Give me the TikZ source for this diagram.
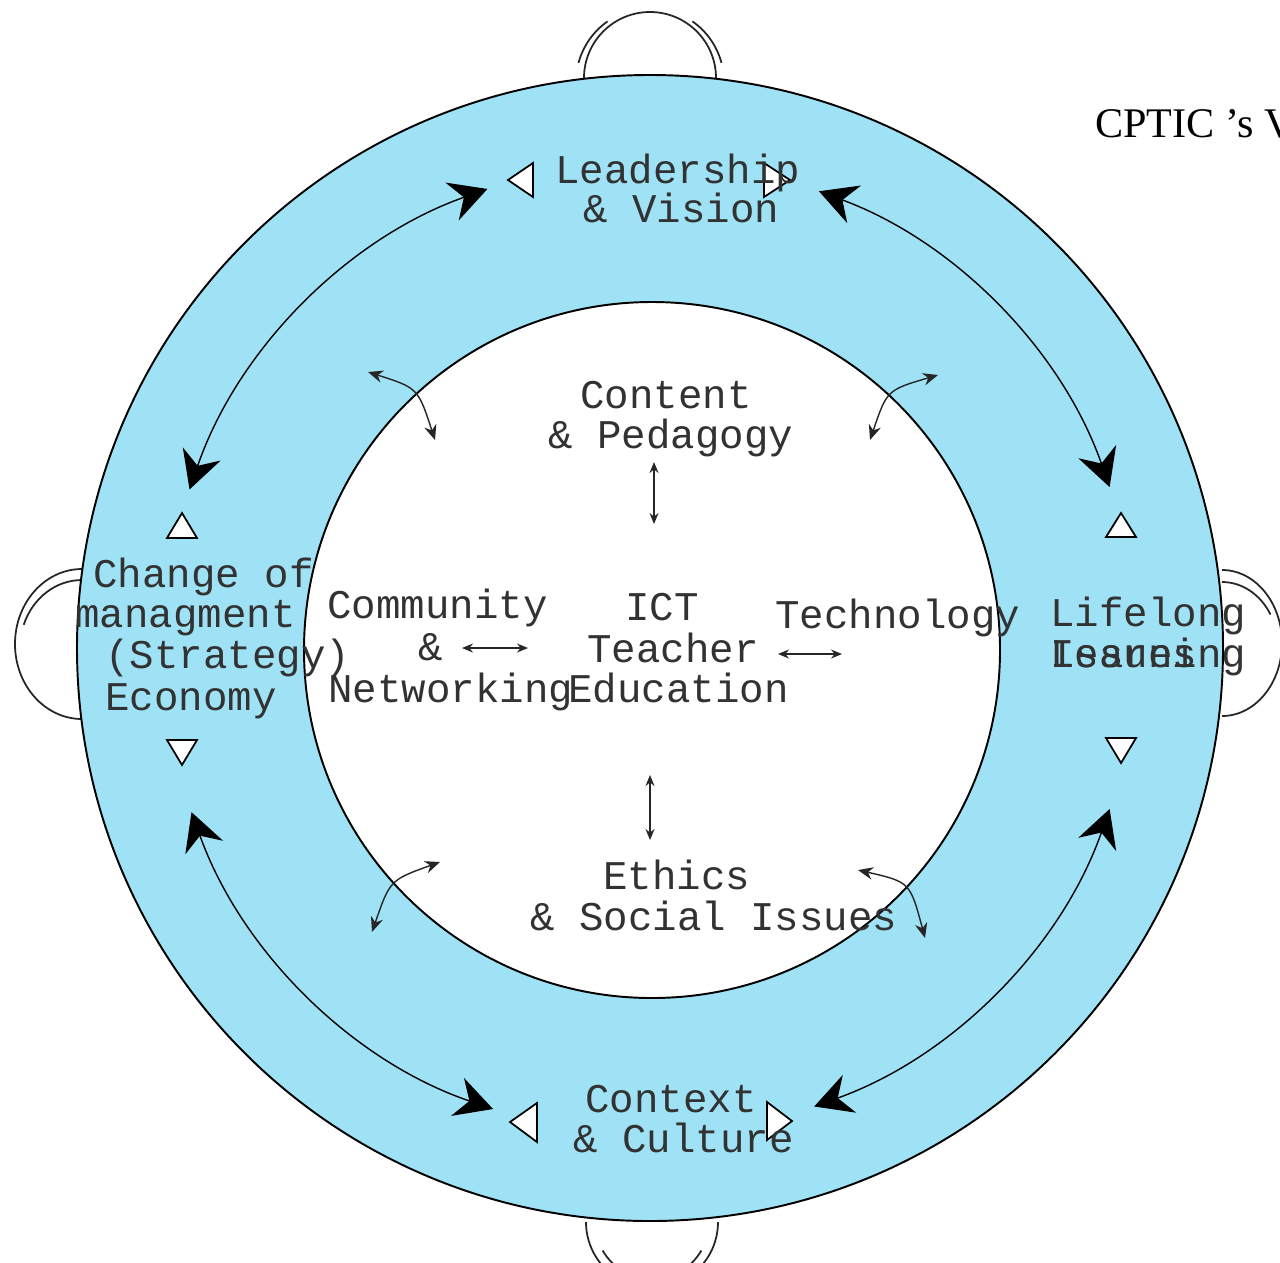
\documentclass[tikz,border=0pt]{standalone}
\usepackage{fontspec}
\setmainfont{Liberation Serif}
\setmonofont{Liberation Mono}
\usetikzlibrary{arrows.meta}
\definecolor{ringblue}{RGB}{160,226,245}
\definecolor{txtgray}{RGB}{50,50,50}
\tikzset{
  lbl/.style={anchor=base west, inner sep=0pt, text=txtgray, font=\ttfamily\fontsize{23.2}{24}\selectfont},
  ttl/.style={anchor=base west, inner sep=0pt, text=black, font=\rmfamily\fontsize{24}{26}\selectfont},
  ring/.style={draw=black, line width=1.1pt},
  bump/.style={draw=black!85, line width=1pt},
  tri/.style={draw=black, line width=1pt, fill=white, line join=miter},
  bigarr/.style={draw=black, line width=0.8pt,
    {Stealth[length=0.75cm,width=0.8cm,inset=0.25cm]}-{Stealth[length=0.75cm,width=0.8cm,inset=0.25cm]}},
  smallarr/.style={draw=black!85, line width=0.8pt,
    {Stealth[length=0.3cm,width=0.25cm]}-{Stealth[length=0.3cm,width=0.25cm]}},
  tinyarr/.style={draw=black!85, line width=0.8pt,
    {Stealth[length=0.22cm,width=0.18cm]}-{Stealth[length=0.22cm,width=0.18cm]}}
}
\begin{document}
\begin{tikzpicture}[x=0.02cm,y=-0.02cm]
\useasboundingbox (0,0) rectangle (1280,1262);
\begin{scope}
\clip (0,0) rectangle (1280,1262);
\fill[white] (0,0) rectangle (1280,1262);
% bumps
\draw[bump] (584,78) arc[start angle=180, end angle=360, radius=66];
\draw[bump] (650,82) ++(195:74) arc[start angle=195, end angle=235, radius=74];
\draw[bump] (650,82) ++(305:74) arc[start angle=305, end angle=345, radius=74];
\draw[bump] (82,569) arc[start angle=270, end angle=90, x radius=67, y radius=75];
\draw[bump] (82,648) ++(270:68) arc[start angle=270, end angle=200, x radius=62, y radius=68];
\draw[bump] (1222,570) arc[start angle=270, end angle=450, x radius=60, y radius=73];
\draw[bump] (1222,647) ++(270:65) arc[start angle=270, end angle=330, x radius=56, y radius=65];
\draw[bump] (718,1222) arc[start angle=0, end angle=180, radius=66];
\draw[bump] (652,1222) ++(120:57) arc[start angle=120, end angle=150, radius=57];
\draw[bump] (652,1222) ++(30:57) arc[start angle=30, end angle=60, radius=57];
% circles
\coordinate (c) at (650,648);
\draw[ring, fill=ringblue] (c) circle[radius=573];
\draw[ring, fill=white] (652,650) circle[radius=348];
% big arcs
\draw[bigarr] (c) ++(-109.5:487) arc[start angle=-109.5, end angle=-161, radius=487];
\draw[bigarr] (c) ++(-69.7:487) arc[start angle=-69.7, end angle=-19.3, radius=487];
\draw[bigarr] (c) ++(-199.7:487) arc[start angle=-199.7, end angle=-251.2, radius=487];
\draw[bigarr] (c) ++(19.3:487) arc[start angle=19.3, end angle=70.3, radius=487];
% small curved arrows
\coordinate (tla) at (368,372); \coordinate (tlb) at (435,440);
\coordinate (tra) at (938,375); \coordinate (trb) at (870,440);
\coordinate (bla) at (440,862); \coordinate (blb) at (372,932);
\coordinate (bra) at (858,870); \coordinate (brb) at (925,938);
\draw[smallarr] (tla) .. controls (418,388) .. (tlb);
\draw[smallarr] (tra) .. controls (887,390) .. (trb);
\draw[smallarr] (bla) .. controls (390,880) .. (blb);
\draw[smallarr] (bra) .. controls (910,882) .. (brb);
% straight small arrows
\coordinate (v1a) at (654,462); \coordinate (v1b) at (654,524);
\coordinate (v2a) at (650,775); \coordinate (v2b) at (650,840);
\coordinate (h1a) at (462,648); \coordinate (h1b) at (528,648);
\coordinate (h2a) at (778,654); \coordinate (h2b) at (842,654);
\draw[tinyarr] (v1a) -- (v1b);
\draw[tinyarr] (v2a) -- (v2b);
\draw[tinyarr] (h1a) -- (h1b);
\draw[tinyarr] (h2a) -- (h2b);
% white triangles
\draw[tri] (508,180) -- (533,163) -- (533,197) -- cycle;
\draw[tri] (790,180) -- (764,163) -- (764,197) -- cycle;
\draw[tri] (167,538) -- (197,538) -- (182,513) -- cycle;
\draw[tri] (167,740) -- (197,740) -- (182,765) -- cycle;
\draw[tri] (1106,537) -- (1136,537) -- (1121,513) -- cycle;
\draw[tri] (1106,738) -- (1136,738) -- (1121,763) -- cycle;
\draw[tri] (510,1122) -- (537,1103) -- (537,1142) -- cycle;
\draw[tri] (792,1121) -- (767,1102) -- (767,1140) -- cycle;
% texts
\node[lbl] (lead1) at (555,183) {Leadership};
\node[lbl] (lead2) at (583,222) {\& Vision};
\node[lbl] (cont1) at (580,408) {Content};
\node[lbl] (cont2) at (548,448) {\& Pedagogy};
\node[lbl] (ict1) at (625,620) {ICT};
\node[lbl] (ict2) at (587,662) {Teacher};
\node[lbl] (ict3) at (568,702) {Education};
\node[lbl] (com1) at (327,618) {Community};
\node[lbl] (com2) at (418,660) {\&};
\node[lbl] (com3) at (328,702) {Networking};
\node[lbl] (tech) at (775,628) {Technology};
\node[lbl] (life1) at (1050,626) {Lifelong};
\node[lbl] (life2) at (1050,667) {Learning};
\node[lbl] (life3) at (1050,667) {Issues};
\node[lbl] (chg1) at (93,587) {Change of};
\node[lbl] (chg2) at (75,627) {managment};
\node[lbl] (chg3) at (105,668) {(Strategy)};
\node[lbl] (chg4) at (105,710) {Economy};
\node[lbl] (ctx1) at (585,1112) {Context};
\node[lbl] (ctx2) at (573,1152) {\& Culture};
\node[lbl] (eth1) at (603,889) {Ethics};
\node[lbl] (eth2) at (530,930) {\& Social Issues};
\node[ttl] (title) at (1095,137) {CPTIC 's V};
\end{scope}
\end{tikzpicture}
\end{document}
